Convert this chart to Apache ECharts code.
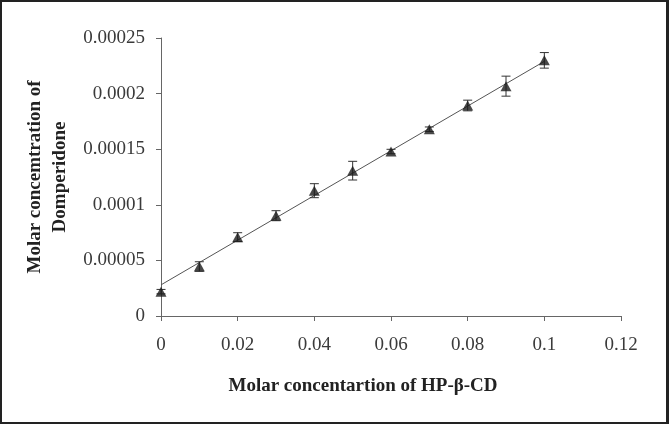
<!DOCTYPE html>
<html>
<head>
<meta charset="utf-8">
<script src="https://cdn.jsdelivr.net/npm/echarts@6/dist/echarts.min.js"></script>
<style>
  html, body { margin: 0; padding: 0; background: #fff; }
  #frame { position: absolute; left: 0; top: 0; width: 669px; height: 424px; box-sizing: border-box; border: 2px solid #222; border-right-width: 3px; }
  #chart { position: absolute; left: 0; top: 0; width: 669px; height: 424px; }
</style>
</head>
<body>
<div id="chart"></div>
<div id="frame"></div>
<script>
// Data
const xValues = [0, 0.01, 0.02, 0.03, 0.04, 0.05, 0.06, 0.07, 0.08, 0.09, 0.1];
const yValues = [0.0000219, 0.0000445, 0.0000709, 0.0000902, 0.0001127, 0.0001307, 0.0001479, 0.0001680, 0.0001893, 0.0002067, 0.0002299];
const yErrors = [0.000002, 0.0000043, 0.000004, 0.0000045, 0.0000063, 0.0000084, 0.000002, 0.000002, 0.0000048, 0.000009, 0.000007];
const trendX = [0, 0.1];
const trendY = [0.000028, 0.000229];
const xTicks = ['0', '0.02', '0.04', '0.06', '0.08', '0.1', '0.12'];
const yTicks = ['0', '0.00005', '0.0001', '0.00015', '0.0002', '0.00025'];

const font = '"Liberation Serif", "Times New Roman", serif';

const points = xValues.map((x, i) => [x, yValues[i]]);
const errData = xValues.map((x, i) => [x, yValues[i] - yErrors[i], yValues[i] + yErrors[i]]);
const trendData = trendX.map((x, i) => [x, trendY[i]]);

const chart = echarts.init(document.getElementById('chart'), null, { renderer: 'canvas' });
chart.setOption({
  animation: false,
  backgroundColor: '#fff',
  grid: { left: 161, right: 48, top: 38, bottom: 108, containLabel: false },
  xAxis: {
    type: 'value', min: 0, max: 0.12, interval: 0.02,
    name: 'Molar concentartion of HP-β-CD',
    nameLocation: 'middle', nameGap: 61,
    nameTextStyle: { fontFamily: font, fontWeight: 'bold', fontSize: 19, color: '#222', verticalAlign: 'top', padding: [0, 56, 0, 0] },
    axisLine: { show: true, onZero: false, lineStyle: { color: '#666', width: 1 } },
    axisTick: { show: true, inside: false, length: 5, lineStyle: { color: '#666' } },
    splitLine: { show: false },
    axisLabel: { margin: 20, fontFamily: font, fontSize: 19, color: '#3a3a3a',
      formatter: (v) => { const idx = Math.round(v / 0.02); return xTicks[idx] !== undefined ? xTicks[idx] : ''; } }
  },
  yAxis: {
    type: 'value', min: 0, max: 0.00025, interval: 0.00005,
    name: 'Molar concemtration of\nDomperidone',
    nameLocation: 'middle', nameGap: 88, nameRotate: 90,
    nameTextStyle: { fontFamily: font, fontWeight: 'bold', fontSize: 19, color: '#222', lineHeight: 25, align: 'center' },
    axisLine: { show: true, lineStyle: { color: '#666', width: 1 } },
    axisTick: { show: true, inside: false, length: 5, lineStyle: { color: '#666' } },
    splitLine: { show: false },
    axisLabel: { margin: 16, fontFamily: font, fontSize: 19, color: '#3a3a3a',
      formatter: (v) => { const idx = Math.round(v / 0.00005); return yTicks[idx] !== undefined ? yTicks[idx] : ''; } }
  },
  series: [
    {
      type: 'line', data: trendData, symbol: 'none', silent: true,
      lineStyle: { color: '#555', width: 1 }, z: 2
    },
    {
      type: 'custom', data: errData, z: 3,
      renderItem: function (params, api) {
        const x = api.value(0);
        const lo = api.coord([x, api.value(1)]);
        const hi = api.coord([x, api.value(2)]);
        const hw = 4.5;
        const style = { stroke: '#333', lineWidth: 1, fill: null };
        return {
          type: 'group',
          children: [
            { type: 'line', shape: { x1: lo[0], y1: lo[1], x2: hi[0], y2: hi[1] }, style: style },
            { type: 'line', shape: { x1: lo[0] - hw, y1: lo[1], x2: lo[0] + hw, y2: lo[1] }, style: style },
            { type: 'line', shape: { x1: hi[0] - hw, y1: hi[1], x2: hi[0] + hw, y2: hi[1] }, style: style }
          ]
        };
      }
    },
    {
      type: 'scatter', data: points, symbol: 'triangle', symbolSize: [11, 10],
      itemStyle: { color: '#1a1a1a' }, z: 4
    }
  ]
});
</script>
</body>
</html>
